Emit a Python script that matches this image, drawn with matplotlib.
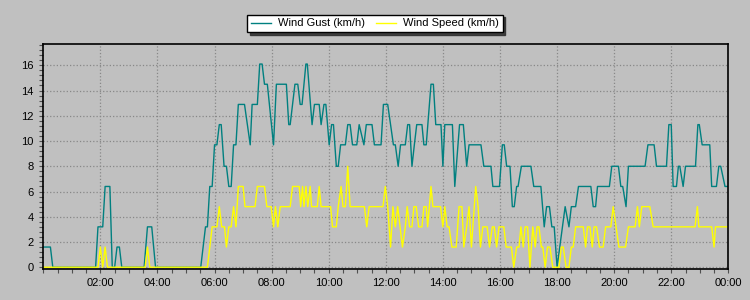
import matplotlib
matplotlib.use('Agg')
import matplotlib.pyplot as plt
from matplotlib.ticker import MultipleLocator
import numpy as np

# minutes since midnight where the line changes, and values in km/h
gust_min = [0, 15, 20, 110, 115, 125, 130, 140, 145, 150, 155, 160, 165, 212, 219, 228, 236,
            331, 341, 345, 350, 355, 360, 365, 370, 374, 380, 385, 390, 395, 400, 405, 410,
            423, 435, 439, 450, 455, 460, 465, 471, 484, 490, 511, 516, 519, 529, 535, 540,
            544, 552, 555, 565, 570, 580, 584, 590, 594, 601, 606, 610, 616, 620, 625, 635,
            640, 645, 650, 659, 664, 674, 679, 691, 696, 710, 715, 724, 736, 740, 746, 751,
            761, 766, 770, 775, 780, 785, 796, 800, 805, 815, 820, 825, 836, 840, 844, 860,
            865, 875, 883, 890, 895, 920, 926, 941, 945, 959, 965, 969, 974, 981, 986, 990,
            995, 998, 1005, 1025, 1031, 1046, 1053, 1058, 1064, 1069, 1074, 1080, 1097, 1105,
            1110, 1119, 1125, 1151, 1156, 1161, 1165, 1190, 1195, 1209, 1214, 1218, 1225, 1230,
            1265, 1271, 1284, 1289, 1310, 1315, 1320, 1324, 1331, 1335, 1338, 1345, 1350, 1371,
            1376, 1379, 1385, 1401, 1405, 1415, 1420, 1424, 1433, 1440]
gust_kmh = [1.6, 1.6, 0, 0, 3.2, 3.2, 6.4, 6.4, 0, 0, 1.6, 1.6, 0, 0, 3.2, 3.2, 0,
            0, 3.2, 3.2, 6.4, 6.4, 9.7, 9.7, 11.3, 11.3, 8.0, 8.0, 6.4, 6.4, 9.7, 9.7, 12.9,
            12.9, 9.7, 12.9, 12.9, 16.1, 16.1, 14.5, 14.5, 9.7, 14.5, 14.5, 11.3, 11.3, 14.5, 14.5, 12.9,
            12.9, 16.1, 16.1, 11.3, 12.9, 12.9, 11.3, 12.9, 12.9, 9.7, 11.3, 11.3, 8.0, 8.0, 9.7, 9.7,
            11.3, 11.3, 9.7, 9.7, 11.3, 9.7, 11.3, 11.3, 9.7, 9.7, 12.9, 12.9, 9.7, 9.7, 8.0, 9.7,
            9.7, 11.3, 11.3, 8.0, 9.7, 11.3, 11.3, 9.7, 9.7, 14.5, 14.5, 11.3, 11.3, 8.0, 11.3, 11.3,
            6.4, 11.3, 11.3, 8.0, 9.7, 9.7, 8.0, 8.0, 6.4, 6.4, 9.7, 9.7, 8.0, 8.0, 4.8, 4.8,
            6.4, 6.4, 8.0, 8.0, 6.4, 6.4, 3.2, 4.8, 4.8, 3.2, 3.2, 0, 4.8, 3.2,
            4.8, 4.8, 6.4, 6.4, 4.8, 4.8, 6.4, 6.4, 8.0, 8.0, 6.4, 6.4, 4.8, 8.0,
            8.0, 9.7, 9.7, 8.0, 8.0, 11.3, 11.3, 6.4, 6.4, 8.0, 8.0, 6.4, 8.0, 8.0,
            11.3, 11.3, 9.7, 9.7, 6.4, 6.4, 8.0, 8.0, 6.4, 6.4]

speed_min = [0, 115, 120, 125, 130, 135, 214, 219, 224, 345, 355, 365, 370, 375, 381, 385,
             390, 395, 400, 405, 410, 420, 424, 445, 450, 465, 470, 479, 484, 488, 493, 498,
             519, 524, 538, 541, 545, 548, 552, 556, 561, 564, 576, 580, 584, 604, 608, 616,
             620, 626, 630, 635, 640, 645, 675, 680, 685, 714, 719, 724, 730, 735, 740, 745,
             750, 755, 761, 765, 770, 775, 779, 784, 789, 796, 800, 805, 808, 815, 819, 835,
             840, 844, 849, 853, 859, 868, 874, 880, 884, 890, 895, 900, 909, 914, 919, 924,
             933, 938, 944, 948, 953, 958, 968, 973, 984, 989, 995, 1000, 1004, 1009, 1013, 1018,
             1023, 1029, 1034, 1038, 1042, 1047, 1050, 1055, 1060, 1065, 1071, 1084, 1089, 1093,
             1099, 1105, 1110, 1114, 1119, 1135, 1140, 1144, 1149, 1154, 1158, 1163, 1169, 1177,
             1182, 1193, 1198, 1204, 1210, 1224, 1230, 1244, 1249, 1253, 1258, 1275, 1282, 1370,
             1375, 1378, 1405, 1410, 1413, 1440]
speed_kmh = [0, 0, 1.6, 0, 1.6, 0, 0, 1.6, 0, 0, 3.2, 3.2, 4.8, 3.2, 3.2, 1.6,
             3.2, 3.2, 4.8, 3.2, 6.4, 6.4, 4.8, 4.8, 6.4, 6.4, 4.8, 4.8, 3.2, 4.8, 3.2, 4.8,
             4.8, 6.4, 6.4, 4.8, 6.4, 4.8, 6.4, 4.8, 6.4, 4.8, 4.8, 6.4, 4.8, 4.8, 3.2, 3.2,
             4.8, 6.4, 4.8, 4.8, 8.0, 4.8, 4.8, 3.2, 4.8, 4.8, 6.4, 4.8, 1.6, 4.8, 3.2, 4.8,
             3.2, 1.6, 3.2, 4.8, 3.2, 3.2, 4.8, 4.8, 3.2, 3.2, 4.8, 4.8, 3.2, 6.4, 4.8, 4.8,
             3.2, 4.8, 3.2, 3.2, 1.6, 1.6, 4.8, 4.8, 1.6, 3.2, 4.8, 1.6, 6.4, 4.8, 1.6, 3.2,
             3.2, 1.6, 3.2, 3.2, 1.6, 3.2, 3.2, 1.6, 1.6, 0, 1.6, 1.6, 3.2, 1.6, 3.2, 3.2,
             0, 3.2, 1.6, 3.2, 3.2, 1.6, 1.6, 0, 1.6, 1.6, 0, 0, 1.6, 1.6,
             0, 0, 1.6, 1.6, 3.2, 3.2, 1.6, 3.2, 3.2, 1.6, 3.2, 3.2, 1.6, 1.6,
             3.2, 3.2, 4.8, 3.2, 1.6, 1.6, 3.2, 3.2, 4.8, 3.2, 4.8, 4.8, 3.2, 3.2,
             4.8, 3.2, 3.2, 1.6, 3.2, 3.2]

hour_ticks = list(range(2, 25, 2))
hour_labels = ['02:00', '04:00', '06:00', '08:00', '10:00', '12:00',
               '14:00', '16:00', '18:00', '20:00', '22:00', '00:00']
y_ticks = list(range(0, 17, 2))

plt.rcParams['font.family'] = ['Liberation Sans', 'DejaVu Sans']
bg = '#c0c0c0'

fig = plt.figure(figsize=(7.5, 3), dpi=100, facecolor=bg)
ax = fig.add_axes([0.0577, 0.105, 0.9134, 0.748])
ax.set_facecolor(bg)

ax.plot(np.array(gust_min) / 60, gust_kmh, color='#008080', lw=1.0, label='Wind Gust (km/h)')
ax.plot(np.array(speed_min) / 60, speed_kmh, color='#ffff00', lw=1.0, label='Wind Speed (km/h)')

ax.set_xlim(0, 24)
ax.set_ylim(-0.1, 17.68)
ax.set_xticks(hour_ticks)
ax.set_xticklabels(hour_labels)
ax.xaxis.set_minor_locator(MultipleLocator(0.5))
ax.set_yticks(y_ticks)
ax.yaxis.set_minor_locator(MultipleLocator(0.4))

ax.tick_params(which='both', direction='out', colors='#505050', labelcolor='black', labelsize=8)
ax.tick_params(which='major', length=3, width=0.8, pad=4)
ax.tick_params(which='minor', length=3, width=0.8)

ax.grid(True, which='major', color='#888888', linestyle=':', linewidth=0.9)
for s in ax.spines.values():
    s.set_color('black')
    s.set_linewidth(1.2)

fig.legend(loc='center', bbox_to_anchor=(0.5, 0.922), ncol=2, fontsize=8,
           frameon=True, fancybox=False, edgecolor='black', facecolor='white', framealpha=1,
           shadow={'color': '#303030', 'alpha': 0.9}, borderpad=0.35,
           handlelength=1.8, handletextpad=0.6, columnspacing=1.0)

fig.savefig('out.png', dpi=100, facecolor=bg)
